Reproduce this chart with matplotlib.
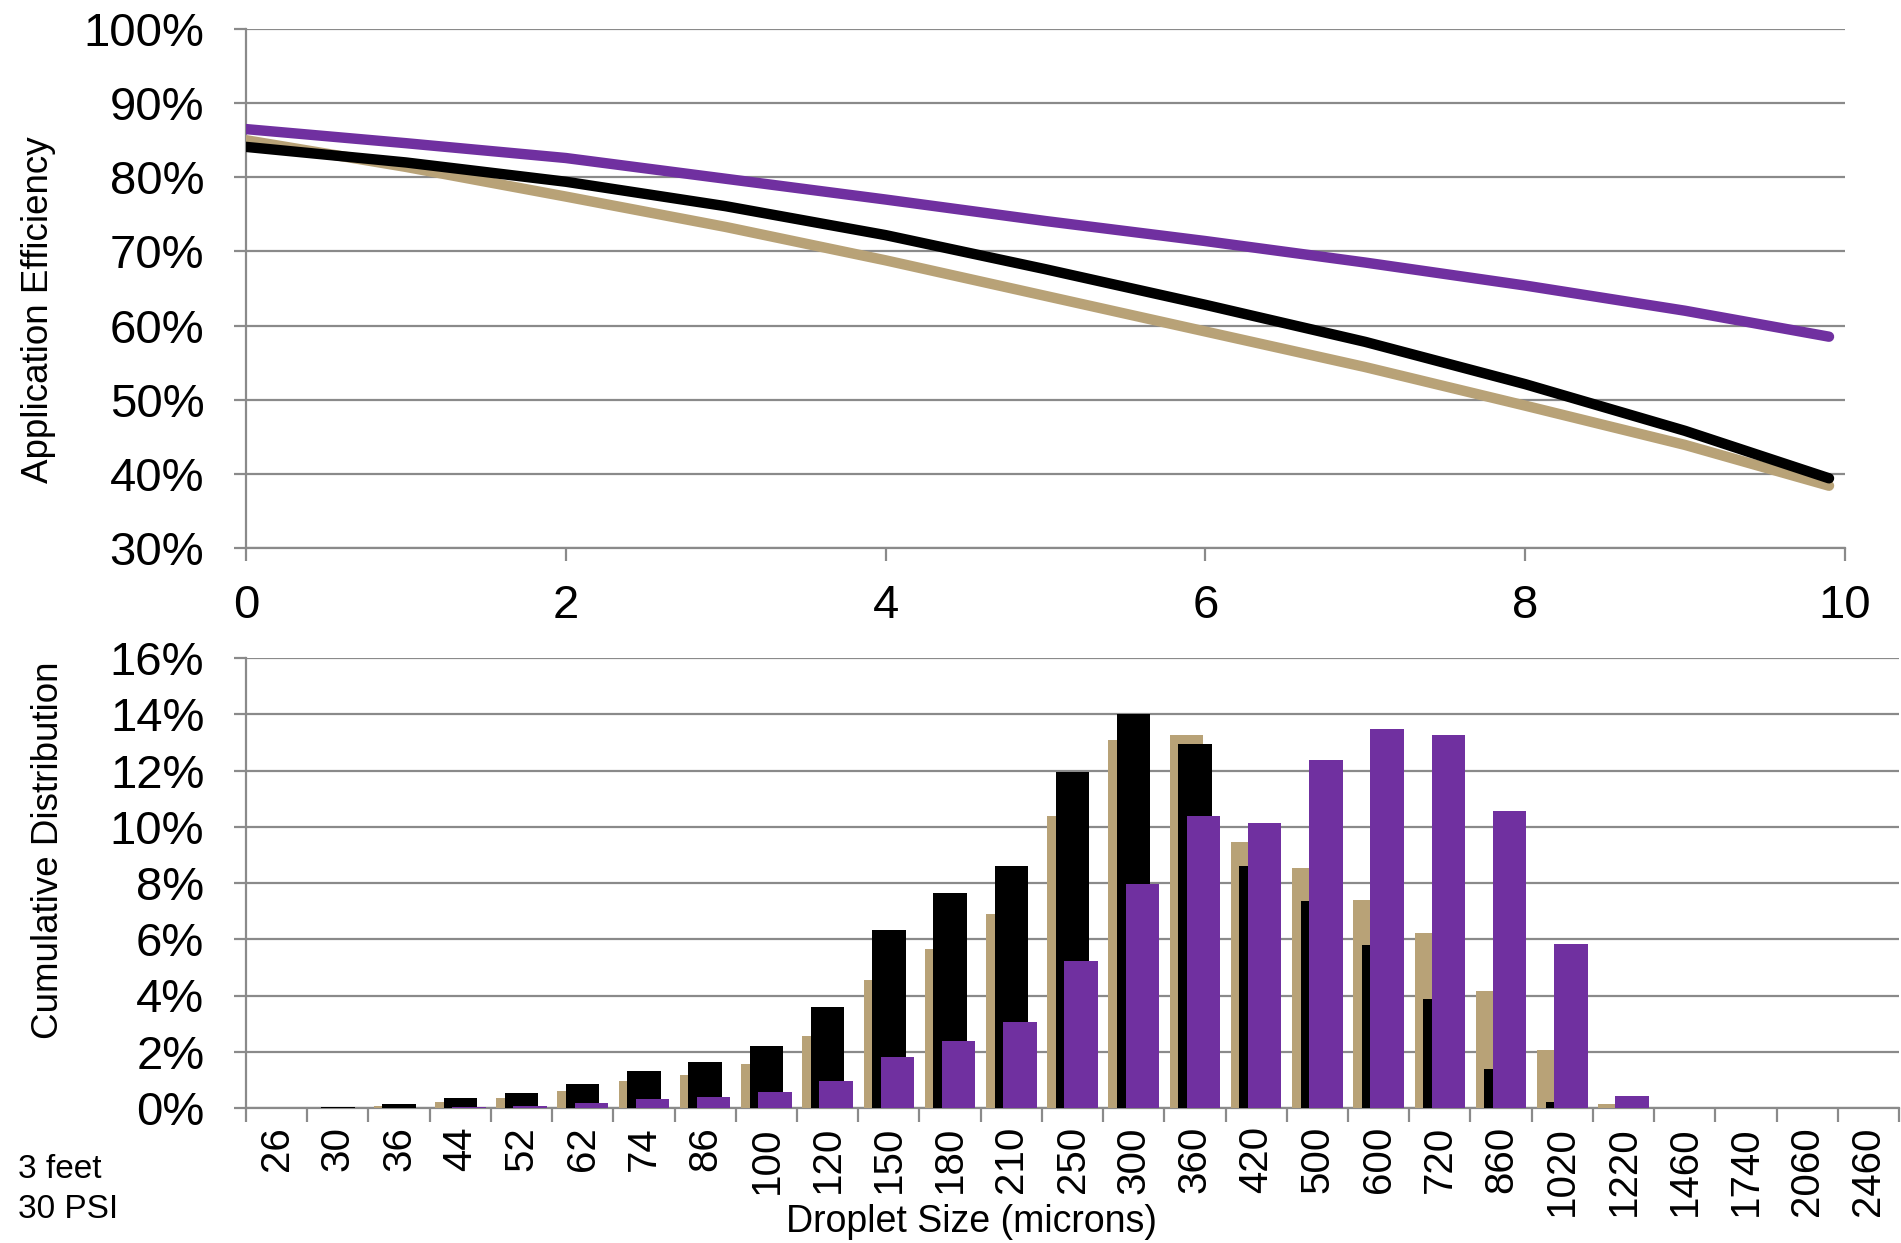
import matplotlib
matplotlib.use("Agg")
import matplotlib.pyplot as plt
from matplotlib.ticker import FuncFormatter, FixedLocator
import numpy as np

plt.rcParams['font.family'] = ['Liberation Sans', 'DejaVu Sans']

# ---- Application efficiency curves ----
distance = [0, 1, 2, 3, 4, 5, 6, 7, 8, 9, 9.9]
eff_tan = [85.0, 81.4, 77.4, 73.3, 68.8, 64.0, 59.2, 54.4, 49.2, 43.9, 38.4]
eff_black = [84.1, 82.0, 79.4, 76.1, 72.2, 67.6, 62.8, 57.8, 52.1, 45.8, 39.4]
eff_purple = [86.5, 84.6, 82.6, 79.8, 77.0, 74.1, 71.4, 68.5, 65.4, 62.0, 58.5]

# ---- Droplet size distribution (percent per size class) ----
droplet_sizes = ['26', '30', '36', '44', '52', '62', '74', '86', '100', '120',
                 '150', '180', '210', '250', '300', '360', '420', '500', '600',
                 '720', '860', '1020', '1220', '1460', '1740', '2060', '2460']
dist_tan = [0.0, 0.0, 0.08, 0.22, 0.35, 0.61, 0.97, 1.16, 1.56, 2.56,
            4.55, 5.67, 6.91, 10.39, 13.07, 13.26, 9.45, 8.54, 7.41,
            6.22, 4.16, 2.08, 0.15, 0.0, 0.0, 0.0, 0.0]
dist_black = [0.0, 0.05, 0.15, 0.34, 0.52, 0.87, 1.33, 1.63, 2.20, 3.58,
              6.32, 7.63, 8.62, 11.96, 14.0, 12.94, 8.62, 7.36, 5.79,
              3.88, 1.38, 0.21, 0.0, 0.0, 0.0, 0.0, 0.0]
dist_purple = [0.0, 0.0, 0.0, 0.04, 0.08, 0.19, 0.33, 0.40, 0.57, 0.97,
               1.81, 2.37, 3.06, 5.21, 7.96, 10.38, 10.14, 12.36, 13.46,
               13.28, 10.55, 5.84, 0.43, 0.0, 0.0, 0.0, 0.0]

TAN = '#B8A277'
BLACK = '#000000'
PURPLE = '#7030A0'
GRID = '#8A8A8A'

W, H = 1901, 1243
fig = plt.figure(figsize=(W / 100, H / 100), dpi=100)

ax1 = fig.add_axes([246 / W, 1 - 548 / H, (1845 - 246) / W, (548 - 29) / H])
ax2 = fig.add_axes([246 / W, 1 - 1108 / H, (1899 - 246) / W, (1108 - 658) / H])

pct = FuncFormatter(lambda v, p: f"{v:.0f}%")

# ---- top panel: lines ----
for ys, c in [(eff_tan, TAN), (eff_black, BLACK), (eff_purple, PURPLE)]:
    ax1.plot(distance, ys, color=c, lw=7.5, solid_capstyle='round',
             solid_joinstyle='round', zorder=3)
ax1.set_xlim(0, 10)
ax1.set_ylim(30, 100)
ax1.set_yticks(np.arange(30, 101, 10))
ax1.set_xticks(np.arange(0, 11, 2))
ax1.yaxis.set_major_formatter(pct)
ax1.grid(axis='y', color=GRID, lw=1.6)
ax1.set_axisbelow(True)
for s in ['top', 'right']:
    ax1.spines[s].set_visible(False)
for s in ['left', 'bottom']:
    ax1.spines[s].set_color(GRID)
    ax1.spines[s].set_linewidth(1.6)
ax1.tick_params(axis='y', length=9, width=1.6, color=GRID, pad=21,
                labelsize=34)
ax1.tick_params(axis='x', length=9, width=1.6, color=GRID, pad=17,
                labelsize=34)
ax1.set_ylabel('Application Efficiency', fontsize=26.5)
ax1.yaxis.set_label_coords(-0.119, 0.46)

# ---- bottom panel: grouped, overlapping bars ----
x = np.arange(len(droplet_sizes))
bw = 0.545
off = 0.14
ax2.bar(x - off, dist_tan, width=bw, color=TAN, zorder=3)
ax2.bar(x, dist_black, width=bw, color=BLACK, zorder=3)
ax2.bar(x + off, dist_purple, width=bw, color=PURPLE, zorder=3)
ax2.set_xlim(-0.5, len(droplet_sizes) - 0.5)
ax2.set_ylim(0, 16)
ax2.set_yticks(np.arange(0, 17, 2))
ax2.yaxis.set_major_formatter(pct)
ax2.grid(axis='y', color=GRID, lw=1.6)
ax2.set_axisbelow(True)
for s in ['top', 'right']:
    ax2.spines[s].set_visible(False)
for s in ['left', 'bottom']:
    ax2.spines[s].set_color(GRID)
    ax2.spines[s].set_linewidth(1.6)
ax2.set_xticks(x)
ax2.set_xticklabels(droplet_sizes, rotation=90, va='top', ha='center')
ax2.xaxis.set_minor_locator(FixedLocator(np.arange(-0.5, len(droplet_sizes), 1)))
ax2.tick_params(axis='x', which='major', length=0, pad=13, labelsize=29)
ax2.tick_params(axis='x', which='minor', length=10, width=1.6, color=GRID)
ax2.tick_params(axis='y', length=9, width=1.6, color=GRID, pad=21,
                labelsize=34)
ax2.set_ylabel('Cumulative Distribution', fontsize=26.5)
ax2.yaxis.set_label_coords(-0.109, 0.573)

fig.text(971 / W, 1 - 1222 / H, 'Droplet Size (microns)', fontsize=27,
         ha='center', va='center')
fig.text(18 / W, 1 - 1170 / H, '3 feet', fontsize=24, ha='left', va='center')
fig.text(18 / W, 1 - 1209 / H, '30 PSI', fontsize=24, ha='left', va='center')

fig.savefig('out.png', dpi=100)
